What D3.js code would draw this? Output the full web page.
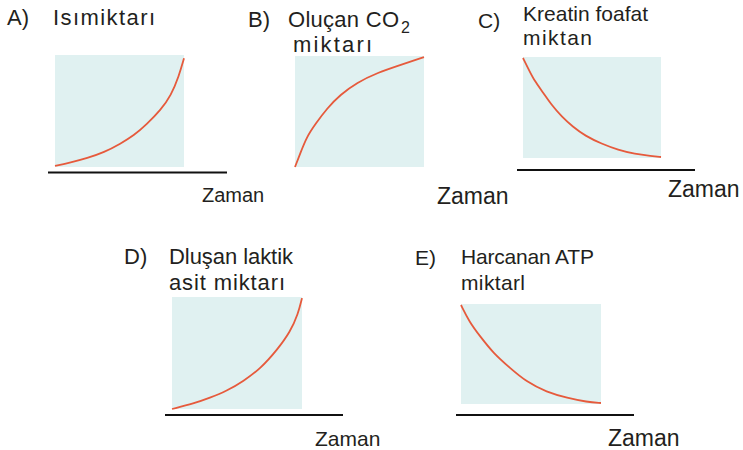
<!doctype html>
<html lang="tr">
<head>
  <meta charset="utf-8">
  <title>Zaman grafikleri</title>
  <style>
    body { margin: 0; background: #fff; }
    svg { display: block; }
    text { font-family: "Liberation Sans", Arial, sans-serif; fill: #231f20; }
    .box { fill: #e0f1f1; }
    .curve { fill: none; stroke: #e65a3c; stroke-width: 1.8; }
    .axis { stroke: #111; stroke-width: 2; }
  </style>
</head>
<body>
  <script src="https://cdn.jsdelivr.net/npm/d3@7"></script>
  <script>

// values (time 0..1, amount 0..1)
var aTime = [0, 0.12, 0.25, 0.38, 0.51, 0.61, 0.71, 0.82, 0.90, 0.96, 1];
var aValue = [0.01, 0.04, 0.08, 0.13, 0.21, 0.28, 0.38, 0.51, 0.64, 0.81, 0.97];

var bTime = [0, 0.04, 0.09, 0.16, 0.25, 0.35, 0.48, 0.64, 0.82, 1];
var bValue = [0, 0.12, 0.27, 0.39, 0.53, 0.65, 0.76, 0.85, 0.92, 0.99];

var cTime = [0, 0.04, 0.08, 0.15, 0.21, 0.28, 0.36, 0.45, 0.57, 0.69, 0.81, 0.93, 1];
var cValue = [0.99, 0.88, 0.77, 0.64, 0.52, 0.41, 0.31, 0.22, 0.14, 0.08, 0.04, 0.02, 0.01];

var dTime = [0, 0.17, 0.29, 0.42, 0.55, 0.68, 0.81, 0.91, 0.97, 1];
var dValue = [0, 0.05, 0.10, 0.16, 0.25, 0.36, 0.53, 0.69, 0.85, 0.99];

var eTime = [0, 0.06, 0.14, 0.23, 0.35, 0.47, 0.61, 0.76, 0.90, 1];
var eValue = [0.99, 0.82, 0.67, 0.51, 0.36, 0.22, 0.12, 0.06, 0.02, 0.01];

var letters = ["A)", "B)", "C)", "D)", "E)"];
var titles = [
  ["Isımiktarı"],
  ["Oluçan CO", "miktarı"],
  ["Kreatin foafat", "miktan"],
  ["Dluşan laktik", "asit miktarı"],
  ["Harcanan ATP", "miktarl"]
];
var xLabel = "Zaman";

// layout of each small panel
var panels = [
  { t: aTime, v: aValue, box: [55, 184, 55, 167], axis: [48, 227, 172.5],
    letter: [7, 25], lines: [[53, 25, 102]], size: 22, zaman: [202, 202, 20] },
  { t: bTime, v: bValue, box: [295, 424, 56, 167], axis: null,
    letter: [248, 27], lines: [[288, 27, 111], [293, 52, 79]], size: 22, zaman: [437, 204, 23], sub: [401, 33] },
  { t: cTime, v: cValue, box: [523, 661, 57, 158], axis: [517, 695, 170],
    letter: [478, 28], lines: [[523, 21, 125], [523, 45, 69]], size: 21, zaman: [668, 197, 23] },
  { t: dTime, v: dValue, box: [172, 302, 297, 409], axis: [165, 343, 415],
    letter: [124, 264], lines: [[169, 264, 124], [169, 290, 116]], size: 22, zaman: [315, 446, 21] },
  { t: eTime, v: eValue, box: [461, 601, 304, 404], axis: [456, 634, 415],
    letter: [415, 265], lines: [[461, 264, 133], [461, 290, 64]], size: 21, zaman: [608, 446, 23] }
];

var svg = d3.select("body").append("svg")
    .attr("width", 743)
    .attr("height", 450);

panels.forEach(function(p, i) {
  var g = svg.append("g");

  var x = d3.scaleLinear().domain([0, 1]).range([p.box[0], p.box[1]]);
  var y = d3.scaleLinear().domain([0, 1]).range([p.box[3], p.box[2]]);

  g.append("rect").attr("class", "box")
      .attr("x", x(0)).attr("y", y(1))
      .attr("width", x(1) - x(0)).attr("height", y(0) - y(1));

  var line = d3.line()
      .x(function(d) { return x(d[0]); })
      .y(function(d) { return y(d[1]); })
      .curve(d3.curveBasis);

  g.append("path").attr("class", "curve")
      .datum(d3.zip(p.t, p.v))
      .attr("d", line);

  if (p.axis) {
    g.append("line").attr("class", "axis")
        .attr("x1", p.axis[0]).attr("x2", p.axis[1])
        .attr("y1", p.axis[2]).attr("y2", p.axis[2]);
  }

  g.append("text")
      .attr("x", p.letter[0]).attr("y", p.letter[1])
      .style("font-size", p.size + "px")
      .text(letters[i]);

  titles[i].forEach(function(s, j) {
    var l = p.lines[j];
    g.append("text")
        .attr("x", l[0]).attr("y", l[1])
        .attr("textLength", l[2]).attr("lengthAdjust", "spacing")
        .style("font-size", p.size + "px")
        .text(s);
  });

  if (p.sub) {
    g.append("text")
        .attr("x", p.sub[0]).attr("y", p.sub[1])
        .style("font-size", "16px")
        .text("2");
  }

  g.append("text")
      .attr("x", p.zaman[0]).attr("y", p.zaman[1])
      .style("font-size", p.zaman[2] + "px")
      .text(xLabel);
});

  </script>
</body>
</html>
